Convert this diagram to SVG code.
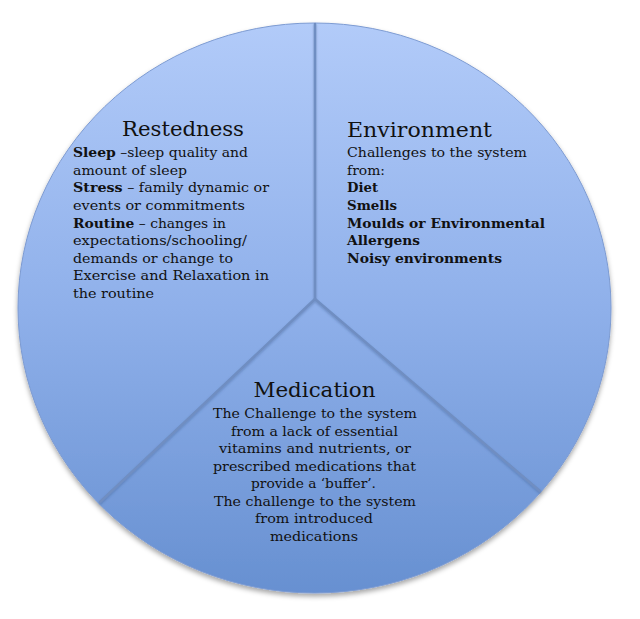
<svg xmlns="http://www.w3.org/2000/svg" width="640" height="619" viewBox="0 0 640 619">
<defs>
<linearGradient id="fill" x1="0" y1="0" x2="0" y2="1">
<stop offset="0" stop-color="#b2cbf9"/>
<stop offset="0.5" stop-color="#8fb0ea"/>
<stop offset="1" stop-color="#6790d1"/>
</linearGradient>
<filter id="shadow" x="-10%" y="-10%" width="120%" height="125%">
<feDropShadow dx="0" dy="3" stdDeviation="2.5" flood-color="#000" flood-opacity="0.35"/>
</filter>
<filter id="lineshadow" x="-10%" y="-10%" width="120%" height="120%">
<feDropShadow dx="0" dy="1.5" stdDeviation="1" flood-color="#3a5a8a" flood-opacity="0.4"/>
</filter>
</defs>
<style>
text{font-family:"DejaVu Serif","Liberation Serif",serif;fill:#111;}
.title{font-size:20px;}
.body{font-size:13px;}
b,.b{font-weight:bold;}
.c{text-anchor:middle;}
.div{stroke:#6f8ec2;stroke-width:2.5;fill:none;stroke-linecap:round;}
</style>
<g id="circle">
<ellipse cx="314.5" cy="308" rx="296.5" ry="285" fill="url(#fill)" stroke="#7d9bd2" stroke-width="1" filter="url(#shadow)"/>
</g>
<g id="connectors" filter="url(#lineshadow)">
<line class="div" x1="315" y1="299" x2="315" y2="24"/>
<line class="div" x1="315" y1="299" x2="100" y2="502"/>
<line class="div" x1="315" y1="299" x2="540" y2="491"/>
</g>
<g id="restedness">
<text class="title" x="122" y="136" textLength="122" lengthAdjust="spacingAndGlyphs">Restedness</text>
<text class="body" x="73" y="157" textLength="175" lengthAdjust="spacingAndGlyphs"><tspan class="b">Sleep</tspan> –sleep quality and</text>
<text class="body" x="73" y="174.6" textLength="114" lengthAdjust="spacingAndGlyphs">amount of sleep</text>
<text class="body" x="73" y="192.2" textLength="196" lengthAdjust="spacingAndGlyphs"><tspan class="b">Stress</tspan> – family dynamic or</text>
<text class="body" x="73" y="209.9" textLength="172" lengthAdjust="spacingAndGlyphs">events or commitments</text>
<text class="body" x="73" y="227.5" textLength="153" lengthAdjust="spacingAndGlyphs"><tspan class="b">Routine</tspan> – changes in</text>
<text class="body" x="73" y="245.1" textLength="174" lengthAdjust="spacingAndGlyphs">expectations/schooling/</text>
<text class="body" x="73" y="262.8" textLength="160" lengthAdjust="spacingAndGlyphs">demands or change to</text>
<text class="body" x="73" y="280.4" textLength="196" lengthAdjust="spacingAndGlyphs">Exercise and Relaxation in</text>
<text class="body" x="73" y="298" textLength="81" lengthAdjust="spacingAndGlyphs">the routine</text>
</g>
<g id="environment">
<text class="title" x="347" y="137" textLength="145" lengthAdjust="spacingAndGlyphs">Environment</text>
<text class="body" x="347" y="157" textLength="180" lengthAdjust="spacingAndGlyphs">Challenges to the system</text>
<text class="body" x="347" y="174.6" textLength="38" lengthAdjust="spacingAndGlyphs">from:</text>
<text class="body b" x="347" y="192.2" textLength="31" lengthAdjust="spacingAndGlyphs">Diet</text>
<text class="body b" x="347" y="209.9" textLength="50" lengthAdjust="spacingAndGlyphs">Smells</text>
<text class="body b" x="347" y="227.5" textLength="198" lengthAdjust="spacingAndGlyphs">Moulds or Environmental</text>
<text class="body b" x="347" y="245.1" textLength="73" lengthAdjust="spacingAndGlyphs">Allergens</text>
<text class="body b" x="347" y="262.8" textLength="155" lengthAdjust="spacingAndGlyphs">Noisy environments</text>
</g>
<g id="medication">
<text class="title c" x="314.5" y="397" textLength="122" lengthAdjust="spacingAndGlyphs">Medication</text>
<text class="body c" x="315" y="418" textLength="204" lengthAdjust="spacingAndGlyphs">The Challenge to the system</text>
<text class="body c" x="314.5" y="435.5" textLength="167" lengthAdjust="spacingAndGlyphs">from a lack of essential</text>
<text class="body c" x="315" y="453" textLength="192" lengthAdjust="spacingAndGlyphs">vitamins and nutrients, or</text>
<text class="body c" x="314.5" y="470.5" textLength="203" lengthAdjust="spacingAndGlyphs">prescribed medications that</text>
<text class="body c" x="313.5" y="488" textLength="125" lengthAdjust="spacingAndGlyphs">provide a ‘buffer’.</text>
<text class="body c" x="315" y="505.5" textLength="202" lengthAdjust="spacingAndGlyphs">The challenge to the system</text>
<text class="body c" x="314" y="523" textLength="118" lengthAdjust="spacingAndGlyphs">from introduced</text>
<text class="body c" x="314" y="540.5" textLength="88" lengthAdjust="spacingAndGlyphs">medications</text>
</g>
</svg>
